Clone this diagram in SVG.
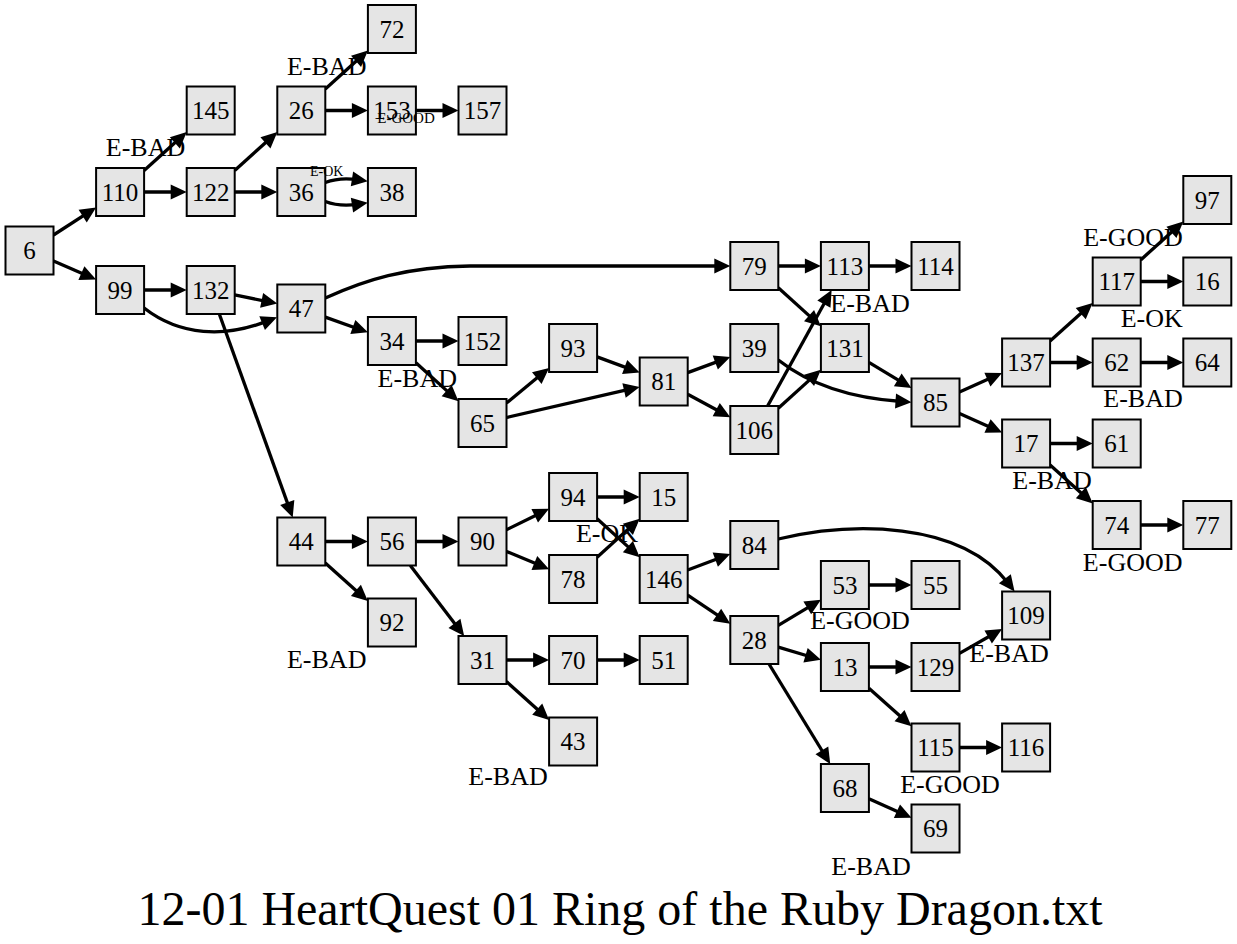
<svg xmlns="http://www.w3.org/2000/svg" width="1237" height="944" viewBox="0 0 1237 944">
<style>
.node rect{fill:#e5e5e5;stroke:#000;stroke-width:2}
.node text{font-family:"Liberation Serif","Times New Roman",serif;font-size:25px;text-anchor:middle;fill:#000}
#edges path{fill:none;stroke:#000;stroke-width:3.3;marker-end:url(#arr)}
.lbl{font-family:"Liberation Serif","Times New Roman",serif;font-size:26px;text-anchor:middle;fill:#000}
.lbls{font-family:"Liberation Serif","Times New Roman",serif;text-anchor:middle;fill:#000}
.title{font-family:"Liberation Serif","Times New Roman",serif;font-size:48px;text-anchor:middle;fill:#000}
</style>
<defs>
<marker id="arr" markerUnits="userSpaceOnUse" markerWidth="17" markerHeight="15" refX="6" refY="7.5" orient="auto" overflow="visible">
<path d="M0,0 L16,7.5 L0,15 z" fill="#000"/>
</marker>
</defs>
<rect width="1237" height="944" fill="#fff"/>
<g id="edges">
<path d="M53.5,235 L87.7,212.9"/>
<path d="M53.5,261 L86.9,275.5"/>
<path d="M144.1,170.4 L179.3,138.8"/>
<path d="M144.1,192 L176.7,192"/>
<path d="M234.7,170.4 L269.9,138.8"/>
<path d="M234.7,192 L267.3,192"/>
<path d="M325.3,88.9 L360.5,57.3"/>
<path d="M325.3,110.5 L357.9,110.5"/>
<path d="M415.9,110.5 L448.5,110.5"/>
<path d="M325.3,182.5 Q340,177 357.9,179.8"/>
<path d="M325.3,201.5 Q340,207 357.9,204.2"/>
<path d="M144.1,290 L176.7,290"/>
<path d="M144.1,308 C180,336 225,338 267.7,320.9"/>
<path d="M234.7,294.9 L267.5,301.6"/>
<path d="M219.3,314 L289.3,508.1"/>
<path d="M325.3,298 C365,280 405,267 470,266 L720.3,266"/>
<path d="M325.3,317.1 L358.5,329"/>
<path d="M415.9,341 L448.5,341"/>
<path d="M415.9,362.7 L451.1,394.6"/>
<path d="M506.5,403.1 L541.4,374.3"/>
<path d="M506.5,417.5 L629.9,389.2"/>
<path d="M597.1,356.9 L630.3,369.1"/>
<path d="M687.7,372.6 L720.9,360.4"/>
<path d="M687.7,394.3 L721.5,412.5"/>
<path d="M778.3,266 L810.9,266"/>
<path d="M778.3,287.7 L813.5,319.6"/>
<path d="M778.3,360 C810,385 850,398 901.5,401.5"/>
<path d="M767.6,406 L826.8,298.8"/>
<path d="M778.3,408.3 L813.5,376.4"/>
<path d="M868.9,266 L901.5,266"/>
<path d="M868.9,362.4 L902.9,382.9"/>
<path d="M959.5,391.9 L992.9,377.1"/>
<path d="M959.5,413.4 L993,428.5"/>
<path d="M1050.1,341 L1085.2,309.6"/>
<path d="M1050.1,362.5 L1082.7,362.5"/>
<path d="M1140.7,259.9 L1175.9,228.3"/>
<path d="M1140.7,281.5 L1173.3,281.5"/>
<path d="M1140.7,362.5 L1173.3,362.5"/>
<path d="M1050.1,443.5 L1082.7,443.5"/>
<path d="M1050.1,465.1 L1085.3,496.7"/>
<path d="M1140.7,525 L1173.3,525"/>
<path d="M325.3,541.5 L357.9,541.5"/>
<path d="M325.3,563 L360.4,594.4"/>
<path d="M415.9,541.5 L448.5,541.5"/>
<path d="M410.3,565.5 L458.1,628.1"/>
<path d="M506.5,529.7 L540.1,513.2"/>
<path d="M506.5,551.4 L539.9,565.3"/>
<path d="M597.1,497 L629.7,497"/>
<path d="M597.1,518.7 L632.3,550.6"/>
<path d="M597.1,557.3 L632.3,525.4"/>
<path d="M687.7,570 L720.9,557.5"/>
<path d="M687.7,595.2 L722,618.2"/>
<path d="M778.3,539 C850,522 960,520 1008.5,583.5"/>
<path d="M778.3,625.4 L812.4,604.8"/>
<path d="M778.3,647.2 L811.3,657"/>
<path d="M769,664 L825,755.5"/>
<path d="M868.9,585 L901.5,585"/>
<path d="M868.9,667 L901.5,667"/>
<path d="M868.9,688.3 L904,719.6"/>
<path d="M959.5,653.4 L993.4,634"/>
<path d="M959.5,747.5 L992.1,747.5"/>
<path d="M868.9,798.7 L902.4,813.7"/>
<path d="M506.5,660 L539.1,660"/>
<path d="M506.5,681.6 L541.7,713.2"/>
<path d="M597.1,660 L629.7,660"/>
</g>
<g id="nodes">
<g id="n6" class="node"><rect x="5.5" y="226.5" width="48" height="48"/><text x="29.5" y="259">6</text></g>
<g id="n110" class="node"><rect x="96.1" y="168" width="48" height="48"/><text x="120.1" y="200.5">110</text></g>
<g id="n99" class="node"><rect x="96.1" y="266" width="48" height="48"/><text x="120.1" y="298.5">99</text></g>
<g id="n145" class="node"><rect x="186.7" y="86.5" width="48" height="48"/><text x="210.7" y="119">145</text></g>
<g id="n122" class="node"><rect x="186.7" y="168" width="48" height="48"/><text x="210.7" y="200.5">122</text></g>
<g id="n132" class="node"><rect x="186.7" y="266" width="48" height="48"/><text x="210.7" y="298.5">132</text></g>
<g id="n26" class="node"><rect x="277.3" y="86.5" width="48" height="48"/><text x="301.3" y="119">26</text></g>
<g id="n36" class="node"><rect x="277.3" y="168" width="48" height="48"/><text x="301.3" y="200.5">36</text></g>
<g id="n47" class="node"><rect x="277.3" y="284.5" width="48" height="48"/><text x="301.3" y="317">47</text></g>
<g id="n44" class="node"><rect x="277.3" y="517.5" width="48" height="48"/><text x="301.3" y="550">44</text></g>
<g id="n72" class="node"><rect x="367.9" y="5" width="48" height="48"/><text x="391.9" y="37.5">72</text></g>
<g id="n153" class="node"><rect x="367.9" y="86.5" width="48" height="48"/><text x="391.9" y="119">153</text></g>
<g id="n38" class="node"><rect x="367.9" y="168" width="48" height="48"/><text x="391.9" y="200.5">38</text></g>
<g id="n34" class="node"><rect x="367.9" y="317" width="48" height="48"/><text x="391.9" y="349.5">34</text></g>
<g id="n56" class="node"><rect x="367.9" y="517.5" width="48" height="48"/><text x="391.9" y="550">56</text></g>
<g id="n92" class="node"><rect x="367.9" y="598.5" width="48" height="48"/><text x="391.9" y="631">92</text></g>
<g id="n157" class="node"><rect x="458.5" y="86.5" width="48" height="48"/><text x="482.5" y="119">157</text></g>
<g id="n152" class="node"><rect x="458.5" y="317" width="48" height="48"/><text x="482.5" y="349.5">152</text></g>
<g id="n65" class="node"><rect x="458.5" y="399" width="48" height="48"/><text x="482.5" y="431.5">65</text></g>
<g id="n90" class="node"><rect x="458.5" y="517.5" width="48" height="48"/><text x="482.5" y="550">90</text></g>
<g id="n31" class="node"><rect x="458.5" y="636" width="48" height="48"/><text x="482.5" y="668.5">31</text></g>
<g id="n93" class="node"><rect x="549.1" y="324" width="48" height="48"/><text x="573.1" y="356.5">93</text></g>
<g id="n94" class="node"><rect x="549.1" y="473" width="48" height="48"/><text x="573.1" y="505.5">94</text></g>
<g id="n78" class="node"><rect x="549.1" y="555" width="48" height="48"/><text x="573.1" y="587.5">78</text></g>
<g id="n70" class="node"><rect x="549.1" y="636" width="48" height="48"/><text x="573.1" y="668.5">70</text></g>
<g id="n43" class="node"><rect x="549.1" y="717.5" width="48" height="48"/><text x="573.1" y="750">43</text></g>
<g id="n81" class="node"><rect x="639.7" y="357.5" width="48" height="48"/><text x="663.7" y="390">81</text></g>
<g id="n15" class="node"><rect x="639.7" y="473" width="48" height="48"/><text x="663.7" y="505.5">15</text></g>
<g id="n146" class="node"><rect x="639.7" y="555" width="48" height="48"/><text x="663.7" y="587.5">146</text></g>
<g id="n51" class="node"><rect x="639.7" y="636" width="48" height="48"/><text x="663.7" y="668.5">51</text></g>
<g id="n79" class="node"><rect x="730.3" y="242" width="48" height="48"/><text x="754.3" y="274.5">79</text></g>
<g id="n39" class="node"><rect x="730.3" y="324" width="48" height="48"/><text x="754.3" y="356.5">39</text></g>
<g id="n106" class="node"><rect x="730.3" y="406" width="48" height="48"/><text x="754.3" y="438.5">106</text></g>
<g id="n84" class="node"><rect x="730.3" y="521" width="48" height="48"/><text x="754.3" y="553.5">84</text></g>
<g id="n28" class="node"><rect x="730.3" y="616" width="48" height="48"/><text x="754.3" y="648.5">28</text></g>
<g id="n113" class="node"><rect x="820.9" y="242" width="48" height="48"/><text x="844.9" y="274.5">113</text></g>
<g id="n131" class="node"><rect x="820.9" y="324" width="48" height="48"/><text x="844.9" y="356.5">131</text></g>
<g id="n53" class="node"><rect x="820.9" y="561" width="48" height="48"/><text x="844.9" y="593.5">53</text></g>
<g id="n13" class="node"><rect x="820.9" y="643" width="48" height="48"/><text x="844.9" y="675.5">13</text></g>
<g id="n68" class="node"><rect x="820.9" y="764" width="48" height="48"/><text x="844.9" y="796.5">68</text></g>
<g id="n114" class="node"><rect x="911.5" y="242" width="48" height="48"/><text x="935.5" y="274.5">114</text></g>
<g id="n85" class="node"><rect x="911.5" y="378.5" width="48" height="48"/><text x="935.5" y="411">85</text></g>
<g id="n55" class="node"><rect x="911.5" y="561" width="48" height="48"/><text x="935.5" y="593.5">55</text></g>
<g id="n129" class="node"><rect x="911.5" y="643" width="48" height="48"/><text x="935.5" y="675.5">129</text></g>
<g id="n115" class="node"><rect x="911.5" y="723.5" width="48" height="48"/><text x="935.5" y="756">115</text></g>
<g id="n69" class="node"><rect x="911.5" y="804.5" width="48" height="48"/><text x="935.5" y="837">69</text></g>
<g id="n137" class="node"><rect x="1002.1" y="338.5" width="48" height="48"/><text x="1026.1" y="371">137</text></g>
<g id="n17" class="node"><rect x="1002.1" y="419.5" width="48" height="48"/><text x="1026.1" y="452">17</text></g>
<g id="n109" class="node"><rect x="1002.1" y="591.5" width="48" height="48"/><text x="1026.1" y="624">109</text></g>
<g id="n116" class="node"><rect x="1002.1" y="723.5" width="48" height="48"/><text x="1026.1" y="756">116</text></g>
<g id="n117" class="node"><rect x="1092.7" y="257.5" width="48" height="48"/><text x="1116.7" y="290">117</text></g>
<g id="n62" class="node"><rect x="1092.7" y="338.5" width="48" height="48"/><text x="1116.7" y="371">62</text></g>
<g id="n61" class="node"><rect x="1092.7" y="419.5" width="48" height="48"/><text x="1116.7" y="452">61</text></g>
<g id="n74" class="node"><rect x="1092.7" y="501" width="48" height="48"/><text x="1116.7" y="533.5">74</text></g>
<g id="n97" class="node"><rect x="1183.3" y="176" width="48" height="48"/><text x="1207.3" y="208.5">97</text></g>
<g id="n16" class="node"><rect x="1183.3" y="257.5" width="48" height="48"/><text x="1207.3" y="290">16</text></g>
<g id="n64" class="node"><rect x="1183.3" y="338.5" width="48" height="48"/><text x="1207.3" y="371">64</text></g>
<g id="n77" class="node"><rect x="1183.3" y="501" width="48" height="48"/><text x="1207.3" y="533.5">77</text></g>
</g>
<g id="labels">
<text class="lbl" x="145.5" y="156">E-BAD</text>
<text class="lbl" x="326.7" y="75">E-BAD</text>
<text class="lbls" x="406" y="123.3" font-size="15">E-GOOD</text>
<text class="lbls" x="326.7" y="175.7" font-size="14">E-OK</text>
<text class="lbl" x="417.3" y="387.3">E-BAD</text>
<text class="lbl" x="870" y="311.7">E-BAD</text>
<text class="lbl" x="1133" y="246">E-GOOD</text>
<text class="lbl" x="1151.7" y="326.7">E-OK</text>
<text class="lbl" x="1143" y="407.3">E-BAD</text>
<text class="lbl" x="1052" y="489.3">E-BAD</text>
<text class="lbl" x="1132.7" y="571">E-GOOD</text>
<text class="lbl" x="326.7" y="668">E-BAD</text>
<text class="lbl" x="607" y="542.3">E-OK</text>
<text class="lbl" x="508" y="785">E-BAD</text>
<text class="lbl" x="860" y="629.3">E-GOOD</text>
<text class="lbl" x="1009" y="661.7">E-BAD</text>
<text class="lbl" x="950" y="792.7">E-GOOD</text>
<text class="lbl" x="871" y="875">E-BAD</text>
</g>
<text class="title" x="620" y="925">12-01 HeartQuest 01 Ring of the Ruby Dragon.txt</text>
</svg>
